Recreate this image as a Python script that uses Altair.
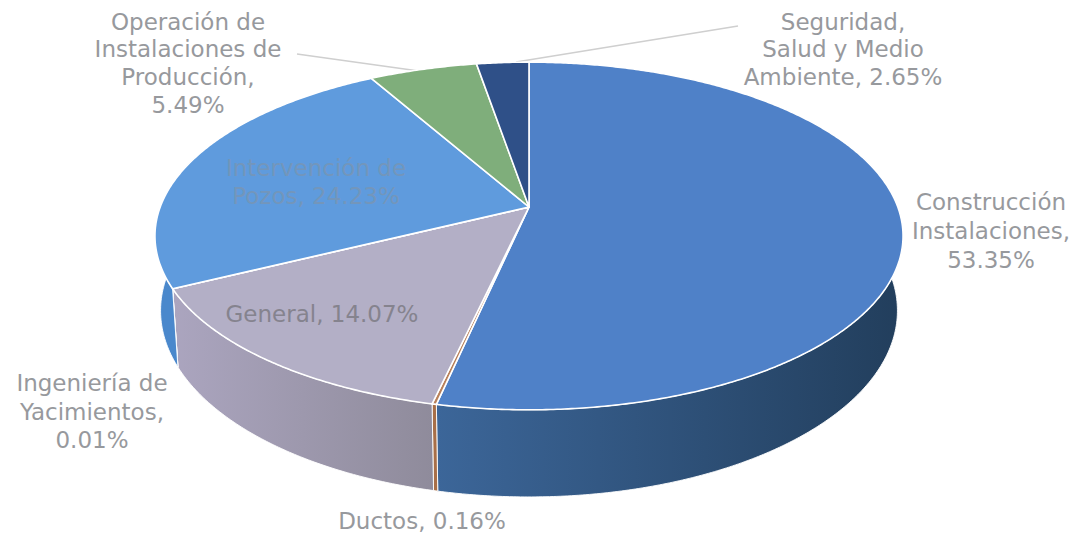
import math
import altair as alt

W, H = 1064, 526

names = ["Construcción Instalaciones", "Ductos", "General", "Ingeniería de Yacimientos",
         "Intervención de Pozos", "Operación de Instalaciones de Producción",
         "Seguridad, Salud y Medio Ambiente"]
shares = [53.35, 0.16, 14.07, 0.01, 24.23, 5.49, 2.65]
top_colors = ["#4f81c8", "#b9815a", "#b3afc6", "#4a86c8", "#5f9bdd", "#7fae7b", "#2f5088"]
wall_left = ["#3c6699", "#a86f48", "#aba5bf", "#4a86c8", "#4a88cc", "#6b9468", "#27426f"]
wall_right = ["#223e5c", "#a86f48", "#8f8b9b", "#4a86c8", "#4a88cc", "#6b9468", "#27426f"]

label_text = ["Operación de", "Instalaciones de", "Producción,", "5.49%",
              "Seguridad,", "Salud y Medio", "Ambiente, 2.65%",
              "Construcción", "Instalaciones,", "53.35%",
              "Ingeniería de", "Yacimientos,", "0.01%",
              "Ductos, 0.16%", "General, 14.07%",
              "Intervención de", "Pozos, 24.23%"]
label_x = [188, 188, 188, 188, 843, 843, 843, 991, 991, 991, 92, 92, 92, 422, 322, 316, 316]
label_y = [23, 50, 78, 106, 23, 50, 78, 203, 232, 261, 384, 413, 441, 522, 315, 169, 197]
label_color = ["#97999d"] * 14 + ["#85838e", "#7396bb", "#7396bb"]

leader_x = [297, 516]
leader_y = [54, 62]
leader_x2 = [426, 738]
leader_y2 = [72, 26]

# Perspective model of the pie (page pixels)
CX, CY, A, B, K, DEPTH, SHRINK = 529, 207, 368.8, 169, 0.1667, 72.6, 0.985
OFF = 8


def rim(theta, bottom=False):
    u, v = math.sin(theta), -math.cos(theta)
    w = 1 - K * v
    s = SHRINK if bottom else 1
    return [CX + A * s * u / w - OFF, CY + (B * v + (DEPTH if bottom else 0)) / w - OFF]


def arc(t0, t1, bottom=False):
    n = max(2, int(abs(t1 - t0) * 120))
    return [rim(t0 + (t1 - t0) * i / n, bottom) for i in range(n + 1)]


def feature(points, name):
    ring = points + [points[0]]
    return {"type": "Feature", "properties": {"name": name},
            "geometry": {"type": "Polygon", "coordinates": [ring]}}


total = sum(shares)
proj = alt.Projection(type="identity", scale=1, translate=[0, 0])
walls, tops = [], []
start = 0.0
WALL_MIN, WALL_MAX = math.radians(70), math.radians(290)
for name, share, tc, wl, wr in zip(names, shares, top_colors, wall_left, wall_right):
    end = start + share / total * 2 * math.pi
    tops.append(
        alt.Chart(alt.Data(values=[feature([[CX - OFF, CY - OFF]] + arc(start, end), name)]))
        .mark_geoshape(fill=tc, stroke="white", strokeWidth=1.6, strokeJoin="round")
        .project(**proj.to_dict())
    )
    a, b = max(start, WALL_MIN), min(end, WALL_MAX)
    if b > a:
        grad = alt.Gradient(gradient="linear", x1=0, x2=1, y1=0, y2=0,
                            stops=[alt.GradientStop(color=wl, offset=0),
                                   alt.GradientStop(color=wr, offset=1)])
        walls.append(
            alt.Chart(alt.Data(values=[feature(arc(a, b) + arc(b, a, True), name)]))
            .mark_geoshape(fill=grad, stroke="white", strokeWidth=0.9)
            .project(**proj.to_dict())
        )
    start = end

x_scale = alt.Scale(domain=[0, W], nice=False, zero=False)
y_scale = alt.Scale(domain=[H, 0], nice=False, zero=False)

labels = alt.Chart(alt.Data(values=[
    {"t": t, "x": x - OFF, "y": y - OFF, "c": c}
    for t, x, y, c in zip(label_text, label_x, label_y, label_color)
])).mark_text(font="DejaVu Sans", fontSize=23, baseline="middle", align="center").encode(
    x=alt.X("x:Q", scale=x_scale, axis=None),
    y=alt.Y("y:Q", scale=y_scale, axis=None),
    text="t:N",
    color=alt.Color("c:N", scale=None),
)

leaders = alt.Chart(alt.Data(values=[
    {"x": x - OFF, "y": y - OFF, "x2": x2 - OFF, "y2": y2 - OFF}
    for x, y, x2, y2 in zip(leader_x, leader_y, leader_x2, leader_y2)
])).mark_rule(color="#cfcfcf", strokeWidth=1.5).encode(
    x=alt.X("x:Q", scale=x_scale, axis=None),
    y=alt.Y("y:Q", scale=y_scale, axis=None),
    x2="x2:Q",
    y2="y2:Q",
)

chart = alt.layer(leaders, *walls, *tops, labels).properties(
    width=W, height=H, padding=0,
    background="white",
).configure_view(stroke=None).resolve_scale(x="shared", y="shared")

chart.save("out.html", embed_options={"renderer": "svg", "actions": False})
